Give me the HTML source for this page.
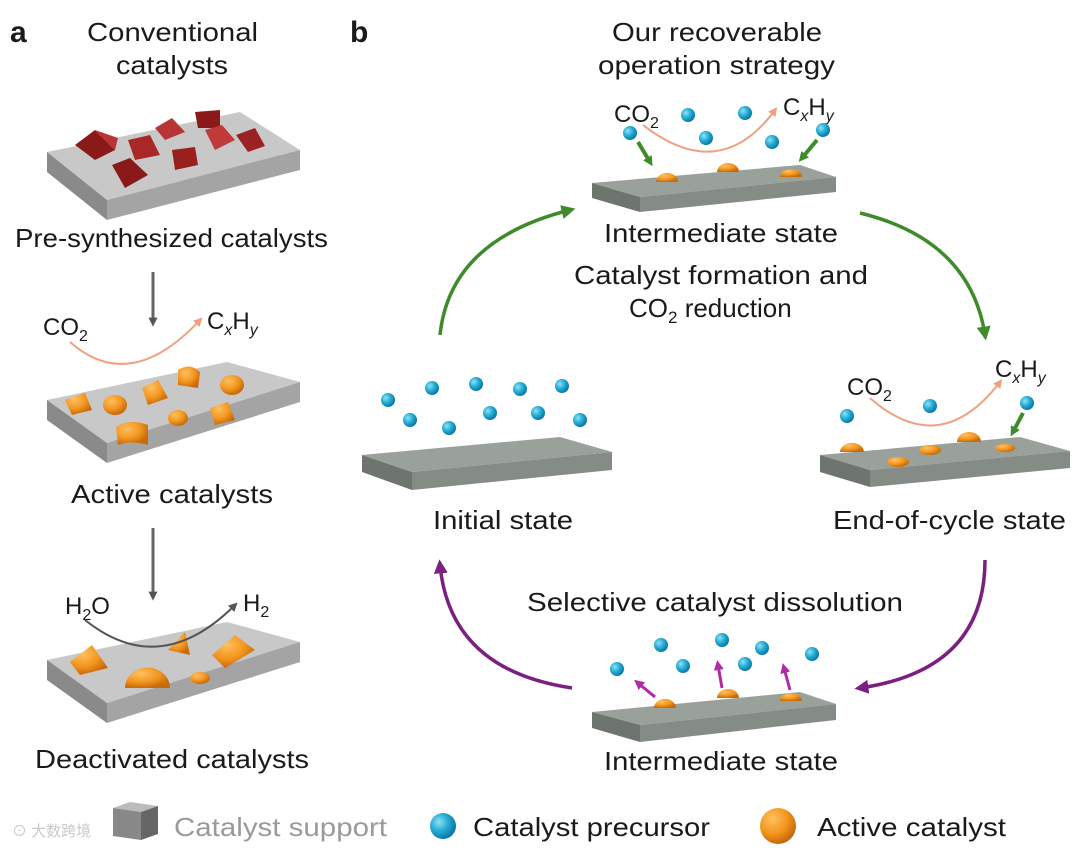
<!DOCTYPE html>
<html><head><meta charset="utf-8"><style>
body{margin:0;background:#fff}
svg{display:block}
text{font-family:"Liberation Sans",sans-serif;fill:#1a1a1a}
</style></head><body>
<svg width="1080" height="853" viewBox="0 0 1080 853" xmlns="http://www.w3.org/2000/svg">
<defs>
<radialGradient id="blue" cx="35%" cy="35%" r="65%"><stop offset="0" stop-color="#8fe3f5"/><stop offset="0.5" stop-color="#2ab0d8"/><stop offset="1" stop-color="#0a7aa8"/></radialGradient>
<radialGradient id="org" cx="35%" cy="30%" r="70%"><stop offset="0" stop-color="#ffc060"/><stop offset="0.6" stop-color="#f2951e"/><stop offset="1" stop-color="#c86a0a"/></radialGradient>
<marker id="agr" viewBox="0 0 10 10" markerWidth="14" markerHeight="14" refX="6" refY="5" orient="auto" markerUnits="userSpaceOnUse"><path d="M0,0 L10,5 L0,10 z" fill="#3f8a2a"/></marker>
<marker id="apu" viewBox="0 0 10 10" markerWidth="14" markerHeight="14" refX="6" refY="5" orient="auto" markerUnits="userSpaceOnUse"><path d="M0,0 L10,5 L0,10 z" fill="#7a2080"/></marker>
<marker id="apk" viewBox="0 0 10 10" markerWidth="9" markerHeight="9" refX="6" refY="5" orient="auto" markerUnits="userSpaceOnUse"><path d="M0,0 L10,5 L0,10 z" fill="#f0a080"/></marker>
<marker id="ags" viewBox="0 0 10 10" markerWidth="9" markerHeight="9" refX="6" refY="5" orient="auto" markerUnits="userSpaceOnUse"><path d="M0,0 L10,5 L0,10 z" fill="#555"/></marker>
<marker id="agg" viewBox="0 0 10 10" markerWidth="10" markerHeight="10" refX="5" refY="5" orient="auto" markerUnits="userSpaceOnUse"><path d="M0,0 L10,5 L0,10 z" fill="#3f8a2a"/></marker>
<marker id="app" viewBox="0 0 10 10" markerWidth="10" markerHeight="10" refX="5" refY="5" orient="auto" markerUnits="userSpaceOnUse"><path d="M0,0 L10,5 L0,10 z" fill="#b02aa8"/></marker>
</defs>

<text x="10" y="42" font-size="30" font-weight="bold">a</text>
<text x="350" y="42" font-size="30" font-weight="bold">b</text>

<!-- panel a -->
<text x="87" y="41" font-size="26" textLength="171" lengthAdjust="spacingAndGlyphs">Conventional</text>
<text x="116" y="74" font-size="26" textLength="112" lengthAdjust="spacingAndGlyphs">catalysts</text>

<g>
<polygon points="47,152 240,112 300,150 107,200" fill="#c8c8c8"/>
<polygon points="47,152 107,200 107,220 47,172" fill="#8a8a8a"/>
<polygon points="107,200 300,150 300,170 107,220" fill="#a4a4a4"/>
</g>
<g fill="#a82828">
<polygon points="75,145 95,130 115,150 95,160" fill="#8a1a1a"/><polygon points="95,130 118,138 115,150" fill="#b83535"/>
<polygon points="128,140 150,135 160,155 135,160"/>
<polygon points="155,128 172,118 185,132 165,140" fill="#b83535"/>
<polygon points="195,112 220,110 220,128 198,128" fill="#8a1a1a"/>
<polygon points="205,130 222,125 235,140 215,150" fill="#c03a3a"/>
<polygon points="236,135 255,128 265,146 248,152" fill="#9a2222"/>
<polygon points="172,150 195,147 198,165 175,170" fill="#9a2020"/>
<polygon points="112,165 130,158 148,175 125,188" fill="#8a1a1a"/>
</g>
<text x="15" y="247" font-size="26" textLength="313" lengthAdjust="spacingAndGlyphs">Pre-synthesized catalysts</text>
<line x1="153" y1="272" x2="153" y2="323" stroke="#666" stroke-width="3" marker-end="url(#ags)"/>

<g>
<polygon points="47,400 227,362 300,382 107,443" fill="#c8c8c8"/>
<polygon points="47,400 107,443 107,463 47,420" fill="#8a8a8a"/>
<polygon points="107,443 300,382 300,402 107,463" fill="#a4a4a4"/>
</g>
<g fill="url(#org)">
<polygon points="65,400 85,393 92,410 72,415"/>
<ellipse cx="115" cy="405" rx="12" ry="10"/>
<polygon points="142,388 158,380 168,398 148,405"/>
<path d="M178,370 Q190,362 200,372 L198,388 L178,385 z"/>
<ellipse cx="232" cy="385" rx="12" ry="10"/>
<ellipse cx="178" cy="418" rx="10" ry="8"/>
<polygon points="210,408 228,402 235,420 215,425"/>
<path d="M116,427 Q130,418 148,425 L148,445 Q130,440 118,445 z"/>
</g>
<text x="43" y="335" font-size="24">CO<tspan font-size="16" dy="6">2</tspan></text>
<text x="207" y="329" font-size="24">C<tspan font-size="16" dy="6" font-style="italic">x</tspan><tspan dy="-6">H</tspan><tspan font-size="16" dy="6" font-style="italic">y</tspan></text>
<path d="M70,342 Q130,395 200,320" fill="none" stroke="#f0a080" stroke-width="2" marker-end="url(#apk)"/>
<text x="71" y="503" font-size="26" textLength="202" lengthAdjust="spacingAndGlyphs">Active catalysts</text>
<line x1="153" y1="528" x2="153" y2="597" stroke="#666" stroke-width="3" marker-end="url(#ags)"/>

<g>
<polygon points="47,660 227,622 300,642 107,703" fill="#c8c8c8"/>
<polygon points="47,660 107,703 107,723 47,680" fill="#8a8a8a"/>
<polygon points="107,703 300,642 300,662 107,723" fill="#a4a4a4"/>
</g>
<g fill="url(#org)">
<polygon points="70,662 92,645 108,668 80,675"/>
<path d="M125,688 A22,20 0 0 1 170,688 z"/>
<ellipse cx="200" cy="678" rx="10" ry="6"/>
<path d="M168,650 L185,632 L190,655 z"/>
<polygon points="212,655 235,635 255,650 225,668"/>
</g>
<text x="65" y="614" font-size="24">H<tspan font-size="16" dy="6">2</tspan><tspan dy="-6">O</tspan></text>
<text x="243" y="611" font-size="24">H<tspan font-size="16" dy="6">2</tspan></text>
<path d="M85,620 Q160,680 235,605" fill="none" stroke="#555" stroke-width="2" marker-end="url(#ags)"/>
<text x="35" y="768" font-size="26" textLength="274" lengthAdjust="spacingAndGlyphs">Deactivated catalysts</text>

<!-- panel b -->
<text x="612" y="41" font-size="26" textLength="210" lengthAdjust="spacingAndGlyphs">Our recoverable</text>
<text x="598" y="74" font-size="26" textLength="237" lengthAdjust="spacingAndGlyphs">operation strategy</text>

<g>
<polygon points="592,183 800,165 836,177 640,197" fill="#9aa19a"/>
<polygon points="592,183 640,197 640,212 592,198" fill="#6e746e"/>
<polygon points="640,197 836,177 836,192 640,212" fill="#858b85"/>
</g>
<g fill="url(#org)">
<path d="M656,182 A11,9 0 0 1 678,182 z"/>
<path d="M717,172 A11,9 0 0 1 739,172 z"/>
<path d="M780,177 A11,8 0 0 1 802,177 z"/>
</g>
<text x="614" y="122" font-size="24">CO<tspan font-size="16" dy="6">2</tspan></text>
<text x="783" y="115" font-size="24">C<tspan font-size="16" dy="6" font-style="italic">x</tspan><tspan dy="-6">H</tspan><tspan font-size="16" dy="6" font-style="italic">y</tspan></text>
<path d="M643,125 Q720,185 775,110" fill="none" stroke="#f0a080" stroke-width="2" marker-end="url(#apk)"/>
<g fill="url(#blue)">
<circle cx="630" cy="133" r="7"/><circle cx="688" cy="115" r="7"/><circle cx="745" cy="113" r="7"/>
<circle cx="706" cy="138" r="7"/><circle cx="772" cy="142" r="7"/><circle cx="823" cy="130" r="7"/>
</g>
<line x1="638" y1="142" x2="650" y2="162" stroke="#3f8a2a" stroke-width="4" marker-end="url(#agg)"/>
<line x1="817" y1="140" x2="802" y2="158" stroke="#3f8a2a" stroke-width="4" marker-end="url(#agg)"/>
<text x="604" y="242" font-size="26" textLength="234" lengthAdjust="spacingAndGlyphs">Intermediate state</text>
<text x="574" y="284" font-size="26" textLength="294" lengthAdjust="spacingAndGlyphs">Catalyst formation and</text>
<text x="629" y="317" font-size="26">CO<tspan font-size="17" dy="6">2</tspan><tspan dy="-6"> reduction</tspan></text>

<path d="M440,335 Q450,240 570,210" fill="none" stroke="#3f8a2a" stroke-width="3.5" marker-end="url(#agr)"/>
<path d="M860,213 Q970,240 985,335" fill="none" stroke="#3f8a2a" stroke-width="3.5" marker-end="url(#agr)"/>
<path d="M985,560 Q985,670 860,688" fill="none" stroke="#7a2080" stroke-width="3.5" marker-end="url(#apu)"/>
<path d="M572,688 Q450,670 440,565" fill="none" stroke="#7a2080" stroke-width="3.5" marker-end="url(#apu)"/>

<!-- initial -->
<g>
<polygon points="362,455 560,437 612,452 412,472" fill="#9aa19a"/>
<polygon points="362,455 412,472 412,490 362,472" fill="#6e746e"/>
<polygon points="412,472 612,452 612,470 412,490" fill="#858b85"/>
</g>
<g fill="url(#blue)">
<circle cx="388" cy="400" r="7"/><circle cx="432" cy="388" r="7"/><circle cx="476" cy="384" r="7"/>
<circle cx="520" cy="389" r="7"/><circle cx="562" cy="386" r="7"/><circle cx="410" cy="420" r="7"/>
<circle cx="449" cy="428" r="7"/><circle cx="490" cy="413" r="7"/><circle cx="538" cy="413" r="7"/><circle cx="580" cy="420" r="7"/>
</g>
<text x="433" y="529" font-size="26" textLength="140" lengthAdjust="spacingAndGlyphs">Initial state</text>

<!-- end of cycle -->
<g>
<polygon points="820,455 1020,437 1070,451 870,470" fill="#9aa19a"/>
<polygon points="820,455 870,470 870,487 820,472" fill="#6e746e"/>
<polygon points="870,470 1070,451 1070,468 870,487" fill="#858b85"/>
</g>
<g fill="url(#org)">
<path d="M840,452 A12,9 0 0 1 864,452 z"/>
<ellipse cx="898" cy="462" rx="11" ry="5"/>
<ellipse cx="930" cy="450" rx="11" ry="5"/>
<path d="M957,442 A12,10 0 0 1 981,442 z"/>
<ellipse cx="1005" cy="448" rx="10" ry="4"/>
</g>
<text x="847" y="395" font-size="24">CO<tspan font-size="16" dy="6">2</tspan></text>
<text x="995" y="377" font-size="24">C<tspan font-size="16" dy="6" font-style="italic">x</tspan><tspan dy="-6">H</tspan><tspan font-size="16" dy="6" font-style="italic">y</tspan></text>
<path d="M870,398 Q940,460 1000,382" fill="none" stroke="#f0a080" stroke-width="2" marker-end="url(#apk)"/>
<g fill="url(#blue)"><circle cx="847" cy="416" r="7"/><circle cx="930" cy="406" r="7"/><circle cx="1027" cy="403" r="7"/></g>
<line x1="1023" y1="413" x2="1013" y2="432" stroke="#3f8a2a" stroke-width="4" marker-end="url(#agg)"/>
<text x="833" y="529" font-size="26" textLength="233" lengthAdjust="spacingAndGlyphs">End-of-cycle state</text>

<!-- bottom intermediate -->
<text x="527" y="611" font-size="26" textLength="376" lengthAdjust="spacingAndGlyphs">Selective catalyst dissolution</text>
<g>
<polygon points="592,712 800,692 836,704 640,725" fill="#9aa19a"/>
<polygon points="592,712 640,725 640,742 592,728" fill="#6e746e"/>
<polygon points="640,725 836,704 836,720 640,742" fill="#858b85"/>
</g>
<g fill="url(#org)">
<path d="M654,708 A11,9 0 0 1 676,708 z"/>
<path d="M717,698 A11,9 0 0 1 739,698 z"/>
<path d="M780,701 A11,8 0 0 1 802,701 z"/>
</g>
<g fill="url(#blue)">
<circle cx="617" cy="669" r="7"/><circle cx="661" cy="645" r="7"/><circle cx="683" cy="666" r="7"/>
<circle cx="722" cy="640" r="7"/><circle cx="762" cy="648" r="7"/><circle cx="812" cy="654" r="7"/><circle cx="745" cy="664" r="7"/>
</g>
<line x1="655" y1="697" x2="638" y2="683" stroke="#b02aa8" stroke-width="3" marker-end="url(#app)"/>
<line x1="722" y1="688" x2="718" y2="665" stroke="#b02aa8" stroke-width="3" marker-end="url(#app)"/>
<line x1="790" y1="690" x2="784" y2="668" stroke="#b02aa8" stroke-width="3" marker-end="url(#app)"/>
<text x="604" y="770" font-size="26" textLength="234" lengthAdjust="spacingAndGlyphs">Intermediate state</text>

<!-- legend -->
<polygon points="113,808 130,802 158,806 141,812" fill="#bbb"/>
<polygon points="113,808 141,812 141,840 113,836" fill="#888"/>
<polygon points="141,812 158,806 158,834 141,840" fill="#666"/>
<text x="12" y="836" font-size="15" style="fill:#c8c8c8">⊙ 大数跨境</text>
<text x="174" y="836" font-size="26" textLength="213" lengthAdjust="spacingAndGlyphs" style="fill:#9a9a9a">Catalyst support</text>
<circle cx="443" cy="826" r="13" fill="url(#blue)"/>
<text x="473" y="836" font-size="26" textLength="237" lengthAdjust="spacingAndGlyphs">Catalyst precursor</text>
<circle cx="778" cy="826" r="18" fill="url(#org)"/>
<text x="817" y="836" font-size="26" textLength="189" lengthAdjust="spacingAndGlyphs">Active catalyst</text>
</svg>
</body></html>
